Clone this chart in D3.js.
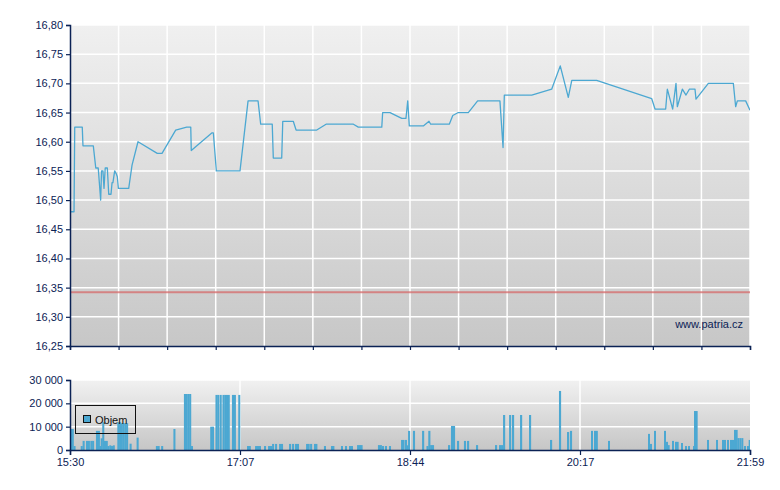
<!DOCTYPE html>
<html><head><meta charset="utf-8">
<script src="https://cdn.jsdelivr.net/npm/d3@7/dist/d3.min.js"></script>
<style>body{margin:0;background:#fff}svg{display:block;font-family:"Liberation Sans",Arial,sans-serif}</style>
</head><body><svg id="c" width="780" height="490"></svg>
<script>
// x tick labels and their minute offsets from 15:30 (axis is not linear in clock time)
const tickLabels = ["15:30","17:07","18:44","20:17","21:59"];
const tickMinutes = [0, 97, 194, 287, 389];
const priceTicks = [16.25,16.30,16.35,16.40,16.45,16.50,16.55,16.60,16.65,16.70,16.75,16.80];
const volTicks = [0,10000,20000,30000];
const refPrice = 16.342;
// price series: minutes since 15:30, price
const priceT = [0,2.3,2.7,7.0,7.4,13.3,14.7,16.1,17.5,18.0,18.8,19.4,20.1,21.3,22.1,23.4,24.0,24.5,25.5,26.4,27.0,27.6,33.5,35.4,38.8,49.8,52.5,60.3,66.6,68.9,69.2,80.9,81.8,83.5,97.0,101.6,107.3,108.8,115.4,116.0,120.8,121.4,127.4,129.0,140.8,146.1,161.7,164.5,177.9,178.4,182.6,189.3,191.7,192.7,193.6,201.3,204.4,205.3,215.5,217.4,220.4,225.9,231.0,243.2,244.9,245.6,260.6,271.5,276.2,280.6,282.5,297.0,330.0,332.0,338.4,339.4,342.6,344.6,345.4,348.4,350.6,352.6,356.0,356.6,364.0,379.0,380.4,381.4,386.4,389.0];
const priceV = [16.48,16.48,16.625,16.625,16.593,16.593,16.555,16.555,16.50,16.55,16.55,16.52,16.555,16.555,16.51,16.51,16.53,16.53,16.55,16.545,16.54,16.52,16.52,16.56,16.60,16.58,16.58,16.62,16.625,16.625,16.585,16.615,16.615,16.55,16.55,16.67,16.67,16.63,16.63,16.572,16.572,16.635,16.635,16.62,16.62,16.63,16.63,16.625,16.625,16.65,16.65,16.64,16.64,16.67,16.627,16.627,16.635,16.63,16.63,16.645,16.65,16.65,16.67,16.67,16.59,16.68,16.68,16.69,16.73,16.676,16.705,16.705,16.674,16.656,16.656,16.69,16.656,16.70,16.66,16.69,16.68,16.69,16.69,16.673,16.70,16.70,16.66,16.67,16.67,16.654];
// volume bars: minutes since 15:30, volume
const volT = [0,1,2,6.1,7.2,9.1,10.2,11.6,12.6,14.8,15.9,16.7,17.5,18.4,19.4,20.4,21.3,22.4,23.4,24.4,27,28,29,30,31,32,34,38,49,50,52,59,65,66,67,68,69,80,81,83,84,85.4,87,88,89,90,92.4,93.5,96,101,102,105.6,106.7,107.8,110.7,113,114.1,115.3,117,119.3,120.4,125,126.7,128.4,129.5,134.7,135.6,137,139.2,140,144.9,148.9,149.7,154.6,156.9,159.2,160.3,163.8,164.9,165.8,175.7,176.8,178,179.7,182,188.9,189.7,191.1,192,192.9,195.6,200.6,203,204,205,206,214.8,216.4,217.5,219.7,223.5,225.2,230.1,240.5,242.7,243.8,244.9,248.2,249.8,254.2,259.1,270.6,275.5,279.9,281.5,293.6,295.4,296.5,303.8,327.8,329,331.4,337.4,338.6,339.6,342.2,344,345,347.6,350,351.8,354.8,355.4,356.4,363.2,368.6,372.2,373.4,375.2,377,378.2,379.4,380.4,381.4,382.6,383.8,385.4,387.2,388.2];
const volV = [9000,9000,1700,1700,3900,3900,3900,3900,3900,8200,8200,1700,5000,11900,3900,3900,1700,2000,1700,2000,11900,11900,11500,11500,11500,11500,2700,5300,1700,1700,1700,9000,24000,24000,24000,24000,1700,10000,10000,23600,23600,23600,23600,23600,23600,23600,23600,23600,23600,1700,1700,1700,1700,1700,1700,1700,1700,2600,2600,2600,2600,2600,2600,2600,2600,2600,2600,2600,2600,2600,1700,1700,1700,1700,1700,1700,1700,2100,2100,2100,2100,2100,1700,1700,1700,4300,4300,4300,2000,8200,8200,8200,1700,8200,2100,2100,2100,10300,10300,3900,3900,3900,2100,2100,2100,2100,15000,15000,15000,15000,15000,4300,25300,7700,8200,8200,8200,8200,3900,6900,2600,8200,8200,3500,2100,3900,3500,3500,3000,1700,1700,1700,16700,16700,4300,4300,4300,4300,4300,4300,4300,8600,8600,5100,5100,5100,1700,1700,4300];

const svg = d3.select("#c");
const L = 70, R = 750, T1 = 25, B1 = 346, T2 = 380, B2 = 450;
const navy = "#0b2255", blue = "#4ca8d2";
const x = d3.scaleLinear().domain(tickMinutes).range([L, 240, 410, 580, R]);
const y = d3.scaleLinear().domain([16.25, 16.80]).range([B1, T1]);
const yv = d3.scaleLinear().domain([0, 30000]).range([B2, T2]);

const defs = svg.append("defs");
function grad(id, c1, c2){
  const g = defs.append("linearGradient").attr("id", id).attr("x1",0).attr("y1",0).attr("x2",0).attr("y2",1);
  g.append("stop").attr("offset","0").attr("stop-color",c1);
  g.append("stop").attr("offset","1").attr("stop-color",c2);
}
grad("g1", "#f0f0f0", "#c7c7c7");
grad("g2", "#f1f1f1", "#c6c6c6");
defs.append("clipPath").attr("id","clip1").append("rect").attr("x",L).attr("y",T1).attr("width",R-L).attr("height",B1-T1);

// main panel
svg.append("rect").attr("x",L).attr("y",T1).attr("width",R-L).attr("height",B1-T1).attr("fill","url(#g1)");
const gridX = d3.range(15).map(i => x.invert(L + i*(R-L)/14));
svg.append("g").selectAll("line").data(priceTicks.slice(1)).join("line")
  .attr("x1",L).attr("x2",R).attr("y1",d=>y(d)).attr("y2",d=>y(d))
  .attr("stroke","#fff").attr("stroke-width",1.5);
svg.append("g").selectAll("line").data(gridX.slice(1)).join("line")
  .attr("x1",d=>x(d)).attr("x2",d=>x(d)).attr("y1",T1).attr("y2",B1)
  .attr("stroke","#fff").attr("stroke-width",1.5);

svg.append("line").attr("x1",L).attr("x2",R).attr("y1",y(refPrice)).attr("y2",y(refPrice))
  .attr("stroke","#d66a6a").attr("stroke-opacity",0.75).attr("stroke-width",2);

svg.append("text").attr("x",743).attr("y",328).attr("text-anchor","end")
  .attr("font-size",11).attr("fill",navy).text("www.patria.cz");

const pts = priceT.map((t,i)=>[t, priceV[i]]);
svg.append("path").datum(pts).attr("clip-path","url(#clip1)")
  .attr("d", d3.line().x(d=>x(d[0])).y(d=>y(d[1])))
  .attr("fill","none").attr("stroke",blue).attr("stroke-width",1.3).attr("stroke-linejoin","round");

// main axes
const ay = svg.append("g").attr("transform",`translate(${L},0)`)
  .call(d3.axisLeft(y).tickValues(priceTicks).tickSize(4).tickPadding(3).tickFormat(d=>d3.format(".2f")(d).replace(".",",")));
const ax = svg.append("g").attr("transform",`translate(0,${B1})`)
  .call(d3.axisBottom(x).tickValues(gridX).tickSize(4).tickFormat(""));
[ay, ax].forEach(g=>{
  g.select(".domain").attr("stroke",navy).attr("stroke-width",1.5);
  g.selectAll(".tick line").attr("stroke",navy).attr("stroke-width",1.2);
  g.selectAll("text").attr("fill",navy).attr("font-size",11).attr("font-family","Liberation Sans, Arial, sans-serif");
});

// volume panel
svg.append("rect").attr("x",L).attr("y",T2).attr("width",R-L).attr("height",B2-T2).attr("fill","url(#g2)");
svg.append("g").selectAll("line").data(volTicks.slice(1)).join("line")
  .attr("x1",L).attr("x2",R).attr("y1",d=>yv(d)).attr("y2",d=>yv(d))
  .attr("stroke","#fff").attr("stroke-width",1.5);
svg.append("g").selectAll("line").data(tickMinutes.slice(1,4)).join("line")
  .attr("x1",d=>x(d)).attr("x2",d=>x(d)).attr("y1",T2).attr("y2",B2)
  .attr("stroke","#fff").attr("stroke-width",1.5);

const vols = volT.map((t,i)=>[t, volV[i]]);
svg.append("g").selectAll("rect").data(vols).join("rect")
  .attr("x",d=>x(d[0])).attr("width",d=>Math.min(R - x(d[0]), Math.max(2, x(d[0]+1)-x(d[0])+0.3)))
  .attr("y",d=>yv(d[1])).attr("height",d=>B2-yv(d[1]))
  .attr("fill",blue);

const avy = svg.append("g").attr("transform",`translate(${L},0)`)
  .call(d3.axisLeft(yv).tickValues(volTicks).tickSize(4).tickPadding(3).tickFormat(d=>d3.format(",")(d).replace(/,/g," ")));
const avx = svg.append("g").attr("transform",`translate(0,${B2})`)
  .call(d3.axisBottom(x).tickValues(tickMinutes).tickSize(5).tickPadding(3).tickFormat((d,i)=>tickLabels[i]));
[avy, avx].forEach(g=>{
  g.select(".domain").attr("stroke",navy).attr("stroke-width",1.5);
  g.selectAll(".tick line").attr("stroke",navy).attr("stroke-width",1.2);
  g.selectAll("text").attr("fill",navy).attr("font-size",11).attr("font-family","Liberation Sans, Arial, sans-serif");
});

// legend
const lg = svg.append("g");
lg.append("rect").attr("x",75.5).attr("y",405.5).attr("width",60).attr("height",28)
  .attr("fill","none").attr("stroke","#111").attr("stroke-width",1);
lg.append("rect").attr("x",83.5).attr("y",415.5).attr("width",7).attr("height",7)
  .attr("fill",blue).attr("stroke","#111").attr("stroke-width",1);
lg.append("text").attr("x",95).attr("y",424).attr("font-size",11).attr("fill","#111").text("Objem");
</script></body></html>
